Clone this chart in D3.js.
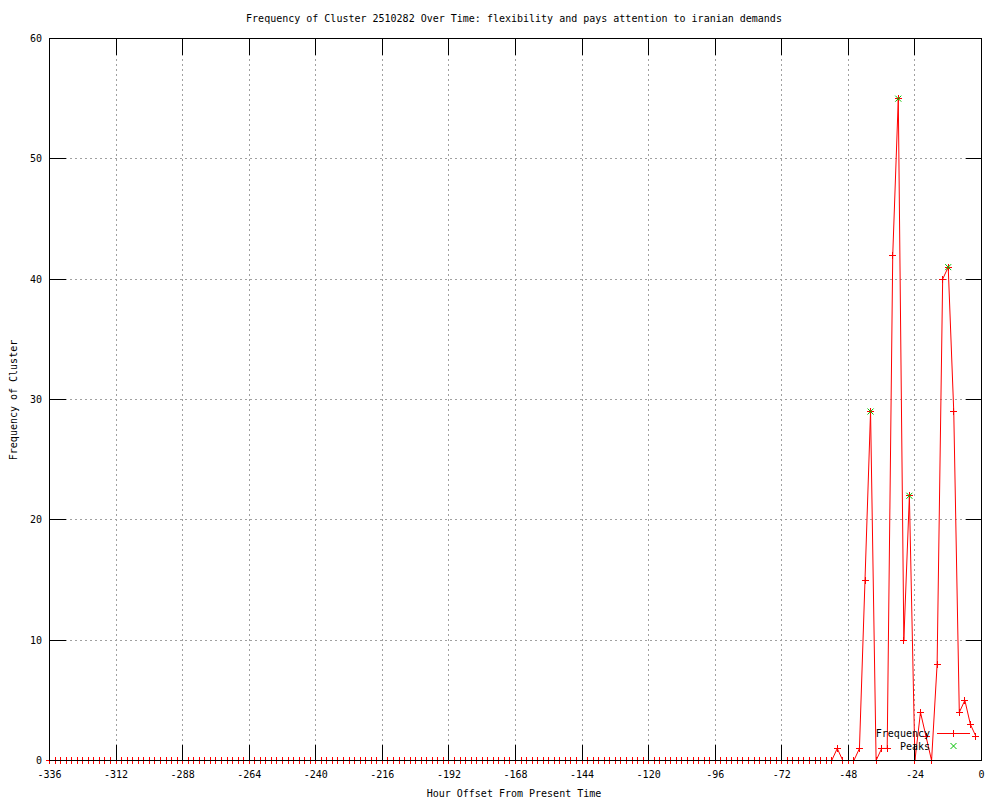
<!DOCTYPE html>
<html>
<head>
<meta charset="utf-8">
<script src="https://cdn.jsdelivr.net/npm/d3@7"></script>
<style>
  html, body { margin: 0; padding: 0; background: #fff; }
  svg text { font-family: "DejaVu Sans Mono", "Liberation Mono", monospace; font-size: 10px; fill: #000; }
</style>
</head>
<body>
<svg id="chart" width="1000" height="800"></svg>
<script>
// ---- data ----
const titleText = "Frequency of Cluster 2510282 Over Time: flexibility and pays attention to iranian demands";
const xLabel = "Hour Offset From Present Time";
const yLabel = "Frequency of Cluster";
const hours = d3.range(-336, 0, 2); // every 2 hours, -336 .. -2
const frequency = [
  0,0,0,0,0,0,0,0,0,0, 0,0,0,0,0,0,0,0,0,0,
  0,0,0,0,0,0,0,0,0,0, 0,0,0,0,0,0,0,0,0,0,
  0,0,0,0,0,0,0,0,0,0, 0,0,0,0,0,0,0,0,0,0,
  0,0,0,0,0,0,0,0,0,0, 0,0,0,0,0,0,0,0,0,0,
  0,0,0,0,0,0,0,0,0,0, 0,0,0,0,0,0,0,0,0,0,
  0,0,0,0,0,0,0,0,0,0, 0,0,0,0,0,0,0,0,0,0,
  0,0,0,0,0,0,0,0,0,0, 0,0,0,0,0,0,0,0,0,0,
  // -56 .. -2
  0,0,1,0,0,0,1,15,29,0,1,1,42,55,10,22,0,4,2,0,8,40,41,29,4,5,3,2
];
const peakHours = [-40, -30, -26, -12];
const peakValues = [29, 55, 22, 41];
const xTicks = [-336,-312,-288,-264,-240,-216,-192,-168,-144,-120,-96,-72,-48,-24,0];
const yTicks = [0,10,20,30,40,50,60];
const legendNames = ["Frequency", "Peaks"];

(function () {
  const svg = d3.select("#chart");
  const L = 49.5, R = 981.5, T = 38.5, B = 760.5;
  const x = d3.scaleLinear().domain([-336, 0]).range([L, R]);
  const y = d3.scaleLinear().domain([0, 60]).range([B, T]);
  const red = "#ff0000", green = "#00c000";
  const tickLen = 16;

  svg.append("rect").attr("width", 1000).attr("height", 800).attr("fill", "#fff");

  // grid
  const grid = svg.append("g").attr("shape-rendering", "crispEdges")
    .attr("stroke", "#a0a0a0").attr("stroke-dasharray", "2,3").attr("stroke-width", 1);
  xTicks.slice(1, -1).forEach(t => grid.append("line")
    .attr("x1", x(t)).attr("x2", x(t)).attr("y1", T).attr("y2", B));
  yTicks.slice(1, -1).forEach(t => grid.append("line")
    .attr("x1", L).attr("x2", R).attr("y1", y(t)).attr("y2", y(t)));

  // data line
  const data = hours.map((h, i) => [h, frequency[i]]);
  svg.append("path").datum(data)
    .attr("fill", "none").attr("stroke", red).attr("stroke-width", 1)
    .attr("d", d3.line().x(d => x(d[0])).y(d => y(d[1])));

  // plus markers
  const s = 3.5;
  const plus = svg.append("g").attr("stroke", red).attr("stroke-width", 1).attr("shape-rendering", "crispEdges");
  data.forEach(d => {
    const px = x(d[0]), py = y(d[1]);
    plus.append("path").attr("d", `M${px - s},${py}H${px + s}M${px},${py - s}V${py + s}`);
  });

  // peak markers (x)
  const pg = svg.append("g").attr("stroke", green).attr("stroke-width", 1);
  const k = 3;
  peakHours.forEach((h, i) => {
    const cx = x(h), cy = y(peakValues[i]);
    pg.append("path").attr("d", `M${cx - k},${cy - k}L${cx + k},${cy + k}M${cx - k},${cy + k}L${cx + k},${cy - k}`);
  });

  // border and ticks
  const axisG = svg.append("g").attr("stroke", "#000").attr("stroke-width", 1).attr("shape-rendering", "crispEdges");
  axisG.append("rect").attr("x", L).attr("y", T).attr("width", R - L).attr("height", B - T).attr("fill", "none");
  xTicks.forEach(t => {
    axisG.append("line").attr("x1", x(t)).attr("x2", x(t)).attr("y1", B).attr("y2", B - tickLen);
    axisG.append("line").attr("x1", x(t)).attr("x2", x(t)).attr("y1", T).attr("y2", T + tickLen);
  });
  yTicks.forEach(t => {
    axisG.append("line").attr("x1", L).attr("x2", L + tickLen).attr("y1", y(t)).attr("y2", y(t));
    axisG.append("line").attr("x1", R).attr("x2", R - tickLen).attr("y1", y(t)).attr("y2", y(t));
  });

  // tick labels
  xTicks.forEach(t => svg.append("text").attr("x", x(t)).attr("y", 778)
    .attr("text-anchor", "middle").text(String(t)));
  yTicks.forEach(t => svg.append("text").attr("x", 42).attr("y", y(t) + 3.5)
    .attr("text-anchor", "end").text(String(t)));

  // titles
  svg.append("text").attr("x", 514).attr("y", 22).attr("text-anchor", "middle").text(titleText);
  svg.append("text").attr("x", 514).attr("y", 797).attr("text-anchor", "middle").text(xLabel);
  svg.append("text").attr("transform", "translate(17,400) rotate(-90)").attr("text-anchor", "middle").text(yLabel);

  // legend
  const lg = svg.append("g");
  lg.append("text").attr("x", 930).attr("y", 737).attr("text-anchor", "end").text(legendNames[0]);
  lg.append("text").attr("x", 930).attr("y", 750).attr("text-anchor", "end").text(legendNames[1]);
  lg.append("line").attr("x1", 937).attr("x2", 970).attr("y1", 733.5).attr("y2", 733.5)
    .attr("stroke", red).attr("shape-rendering", "crispEdges");
  lg.append("path").attr("d", `M${953.5 - s},733.5H${953.5 + s}M953.5,${733.5 - s}V${733.5 + s}`)
    .attr("stroke", red).attr("shape-rendering", "crispEdges");
  lg.append("path").attr("d", `M${953.5 - k},${746 - k}L${953.5 + k},${746 + k}M${953.5 - k},${746 + k}L${953.5 + k},${746 - k}`)
    .attr("stroke", green);
})();
</script>
</body>
</html>
